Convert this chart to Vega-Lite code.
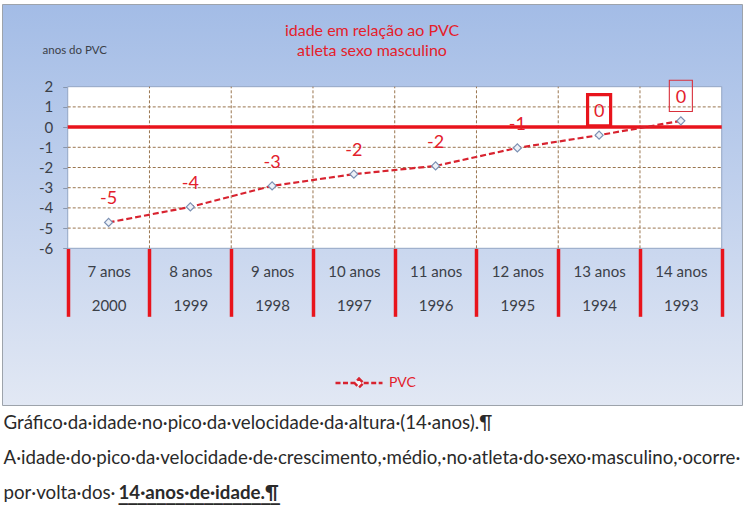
{
  "$schema": "https://vega.github.io/schema/vega-lite/v6.json",
  "width": 740,
  "height": 401,
  "autosize": "none",
  "padding": {"left": 2, "top": 4, "right": 8, "bottom": 108},
  "background": "white",
  "config": {"font": "Lato"},
  "view": {
    "fill": {"gradient": "linear", "x1": 0, "y1": 0, "x2": 0, "y2": 1,
      "stops": [{"offset": 0, "color": "#a3bce6"}, {"offset": 1, "color": "#e2e8f4"}]},
    "stroke": "#9da3ab",
    "strokeWidth": 1
  },
  "title": {
    "text": ["idade em relação ao PVC", "atleta sexo masculino"],
    "orient": "top", "anchor": "middle", "frame": "group", "offset": -68,
    "baseline": "alphabetic", "lineHeight": 20,
    "font": "Lato", "fontSize": 16, "fontWeight": "normal", "color": "#e5202a"
  },
  "data": {"values": [
    {"idade": 7, "ano": 2000, "pvc": -4.72, "rotulo": "-5", "serie": "PVC"},
    {"idade": 8, "ano": 1999, "pvc": -3.95, "rotulo": "-4", "serie": "PVC"},
    {"idade": 9, "ano": 1998, "pvc": -2.91, "rotulo": "-3", "serie": "PVC"},
    {"idade": 10, "ano": 1997, "pvc": -2.33, "rotulo": "-2", "serie": "PVC"},
    {"idade": 11, "ano": 1996, "pvc": -1.92, "rotulo": "-2", "serie": "PVC"},
    {"idade": 12, "ano": 1995, "pvc": -1.03, "rotulo": "-1", "serie": "PVC"},
    {"idade": 13, "ano": 1994, "pvc": -0.40, "rotulo": "0", "serie": "PVC"},
    {"idade": 14, "ano": 1993, "pvc": 0.31, "rotulo": "0", "serie": "PVC"}
  ]},
  "datasets": {
    "grade": [{"v": 1}, {"v": -1}, {"v": -2}, {"v": -3}, {"v": -4}, {"v": -5}]
  },
  "resolve": {"axis": {"x": "independent", "y": "independent"}},
  "layer": [
    {
      "data": {"values": [{}]},
      "mark": {"type": "rect", "fill": "white", "stroke": "#93a6c4", "strokeWidth": 1},
      "encoding": {
        "x": {"datum": 6.5, "type": "quantitative", "scale": {"domain": [5.696, 14.748], "nice": false, "zero": false}, "axis": null},
        "x2": {"datum": 14.5},
        "y": {"datum": -6, "type": "quantitative", "scale": {"domain": [-13.757, 6.094], "nice": false, "zero": false}, "axis": null},
        "y2": {"datum": 2}
      }
    },
    {
      "transform": [{"filter": "datum.idade < 14"}],
      "mark": {"type": "rule", "stroke": "#9a7650", "strokeDash": [3, 2], "strokeWidth": 1, "xOffset": 40.875},
      "encoding": {
        "x": {"field": "idade", "type": "quantitative", "scale": {"domain": [5.696, 14.748], "nice": false, "zero": false}, "axis": null},
        "y": {"datum": -6, "type": "quantitative", "scale": {"domain": [-13.757, 6.094], "nice": false, "zero": false}, "axis": null},
        "y2": {"datum": 2}
      }
    },
    {
      "data": {"name": "grade"},
      "mark": {"type": "rule", "stroke": "#9a7650", "strokeDash": [3, 2], "strokeWidth": 1},
      "encoding": {
        "x": {"datum": 6.5, "type": "quantitative", "scale": {"domain": [5.696, 14.748], "nice": false, "zero": false}, "axis": null},
        "x2": {"datum": 14.5},
        "y": {"field": "v", "type": "quantitative", "scale": {"domain": [-13.757, 6.094], "nice": false, "zero": false}, "axis": null}
      }
    },
    {
      "data": {"values": [{}]},
      "mark": {"type": "rule", "stroke": "#e8141c", "strokeWidth": 3.5},
      "encoding": {
        "x": {"datum": 6.5, "type": "quantitative", "scale": {"domain": [5.696, 14.748], "nice": false, "zero": false}, "axis": null},
        "x2": {"datum": 14.5},
        "y": {"datum": 0, "type": "quantitative", "scale": {"domain": [-13.757, 6.094], "nice": false, "zero": false}, "axis": null}
      }
    },
    {
      "mark": {"type": "line", "strokeDash": [6, 3], "strokeWidth": 2.2},
      "encoding": {
        "x": {"field": "idade", "type": "quantitative",
          "scale": {"domain": [5.696, 14.748], "nice": false, "zero": false},
          "axis": {
            "orient": "bottom", "offset": -156.7,
            "values": [6.5, 7.5, 8.5, 9.5, 10.5, 11.5, 12.5, 13.5, 14.5],
            "domain": false, "grid": false, "ticks": true,
            "tickSize": 68, "tickColor": "#e8141c", "tickWidth": 3.5,
            "labelExpr": "datum.value < 14 ? [(datum.value + 0.5) + ' anos', '' + (2006.5 - datum.value)] : ''",
            "labelOffset": 40.875, "labelPadding": -44.6, "labelBaseline": "middle", "labelLineHeight": 33.5,
            "labelFont": "Lato", "labelFontSize": 15, "labelColor": "#3b4048",
            "labelOverlap": false, "labelFlush": false, "labelBound": false,
            "title": [
              "Gráfico·da·idade·no·pico·da·velocidade·da·altura·(14·anos).¶",
              "A·idade·do·pico·da·velocidade·de·crescimento,·médio,·no·atleta·do·sexo·masculino,·ocorre·",
              "por·volta·dos·"
            ],
            "titleX": 1, "titleY": 179.7, "titleAlign": "left", "titleAnchor": "start",
            "titleBaseline": "alphabetic", "titleAngle": 0, "titleLineHeight": 35,
            "titleFont": "Lato", "titleFontSize": 18.7, "titleFontWeight": "normal", "titleColor": "#2a2a2a"
          }
        },
        "y": {"field": "pvc", "type": "quantitative",
          "scale": {"domain": [-13.757, 6.094], "nice": false, "zero": false},
          "axis": {
            "orient": "left", "offset": -65.7,
            "values": [-6, -5, -4, -3, -2, -1, 0, 1, 2],
            "labelExpr": "'' + datum.value",
            "domain": false, "grid": false,
            "tickSize": 5, "tickColor": "#8796ad", "tickWidth": 1,
            "labelPadding": 10, "labelFont": "Lato", "labelFontSize": 15, "labelColor": "#3b4048",
            "labelOverlap": false, "labelFlush": false, "labelBound": false,
            "title": "anos do PVC", "titleX": -25.7, "titleY": 46, "titleAngle": 0,
            "titleAlign": "left", "titleBaseline": "middle",
            "titleFont": "Lato", "titleFontSize": 11.5, "titleFontWeight": "normal", "titleColor": "#3b4048"
          }
        },
        "color": {"field": "serie", "type": "nominal",
          "scale": {"range": ["#d8232f"]},
          "legend": {
            "orient": "none", "legendX": 332, "legendY": 354, "title": null, "padding": 0,
            "symbolType": "M-1,0H-0.2M0.2,0H1M0,-0.19L0.19,0L0,0.19L-0.19,0Z",
            "symbolSize": 2209, "symbolStrokeWidth": 2.4, "symbolDash": [5, 2.5],
            "symbolFillColor": "#f4f6fb",
            "labelFont": "Lato", "labelFontSize": 14, "labelColor": "#e3202b", "labelOffset": 5
          }
        }
      }
    },
    {
      "mark": {"type": "point", "shape": "diamond", "filled": true, "fill": "#eef2f8", "stroke": "#7b90b3", "strokeWidth": 1.2, "size": 64, "opacity": 1},
      "encoding": {
        "x": {"field": "idade", "type": "quantitative", "scale": {"domain": [5.696, 14.748], "nice": false, "zero": false}, "axis": null},
        "y": {"field": "pvc", "type": "quantitative",
          "scale": {"domain": [-13.757, 6.094], "nice": false, "zero": false},
          "axis": {
            "orient": "right", "domain": false, "ticks": false, "labels": false, "grid": false,
            "title": "14·anos·de·idade.¶", "titleX": -624, "titleY": 494, "titleAngle": 0,
            "titleAlign": "left", "titleBaseline": "alphabetic",
            "titleFont": "Lato", "titleFontSize": 18.7, "titleFontWeight": "bold", "titleColor": "#2a2a2a"
          }
        }
      }
    },
    {
      "mark": {"type": "text", "dy": -23, "fontSize": 18, "color": "#e3202b", "font": "Lato", "baseline": "middle"},
      "encoding": {
        "x": {"field": "idade", "type": "quantitative", "scale": {"domain": [5.696, 14.748], "nice": false, "zero": false}, "axis": null},
        "y": {"field": "pvc", "type": "quantitative",
          "scale": {"domain": [-13.757, 6.094], "nice": false, "zero": false},
          "axis": {
            "orient": "right", "domain": false, "ticks": false, "labels": false, "grid": false,
            "title": "_________________", "titleX": -624, "titleY": 495, "titleAngle": 0,
            "titleAlign": "left", "titleBaseline": "alphabetic",
            "titleFont": "DejaVu Sans", "titleFontSize": 19, "titleFontWeight": "bold", "titleColor": "#2a2a2a"
          }
        },
        "text": {"field": "rotulo"}
      }
    },
    {
      "transform": [{"filter": "datum.idade == 13"}],
      "mark": {"type": "point", "shape": "M-0.72,-2.54H0.72V-0.58H-0.72Z", "filled": false, "stroke": "#e8141c", "strokeWidth": 3.2, "size": 1024, "opacity": 1},
      "encoding": {
        "x": {"field": "idade", "type": "quantitative", "scale": {"domain": [5.696, 14.748], "nice": false, "zero": false}, "axis": null},
        "y": {"field": "pvc", "type": "quantitative", "scale": {"domain": [-13.757, 6.094], "nice": false, "zero": false}, "axis": null}
      }
    },
    {
      "transform": [{"filter": "datum.idade == 14"}],
      "mark": {"type": "point", "shape": "M-0.72,-2.54H0.72V-0.58H-0.72Z", "filled": false, "stroke": "#d8303c", "strokeWidth": 1.1, "size": 1024, "opacity": 1},
      "encoding": {
        "x": {"field": "idade", "type": "quantitative", "scale": {"domain": [5.696, 14.748], "nice": false, "zero": false}, "axis": null},
        "y": {"field": "pvc", "type": "quantitative", "scale": {"domain": [-13.757, 6.094], "nice": false, "zero": false}, "axis": null}
      }
    }
  ]
}
